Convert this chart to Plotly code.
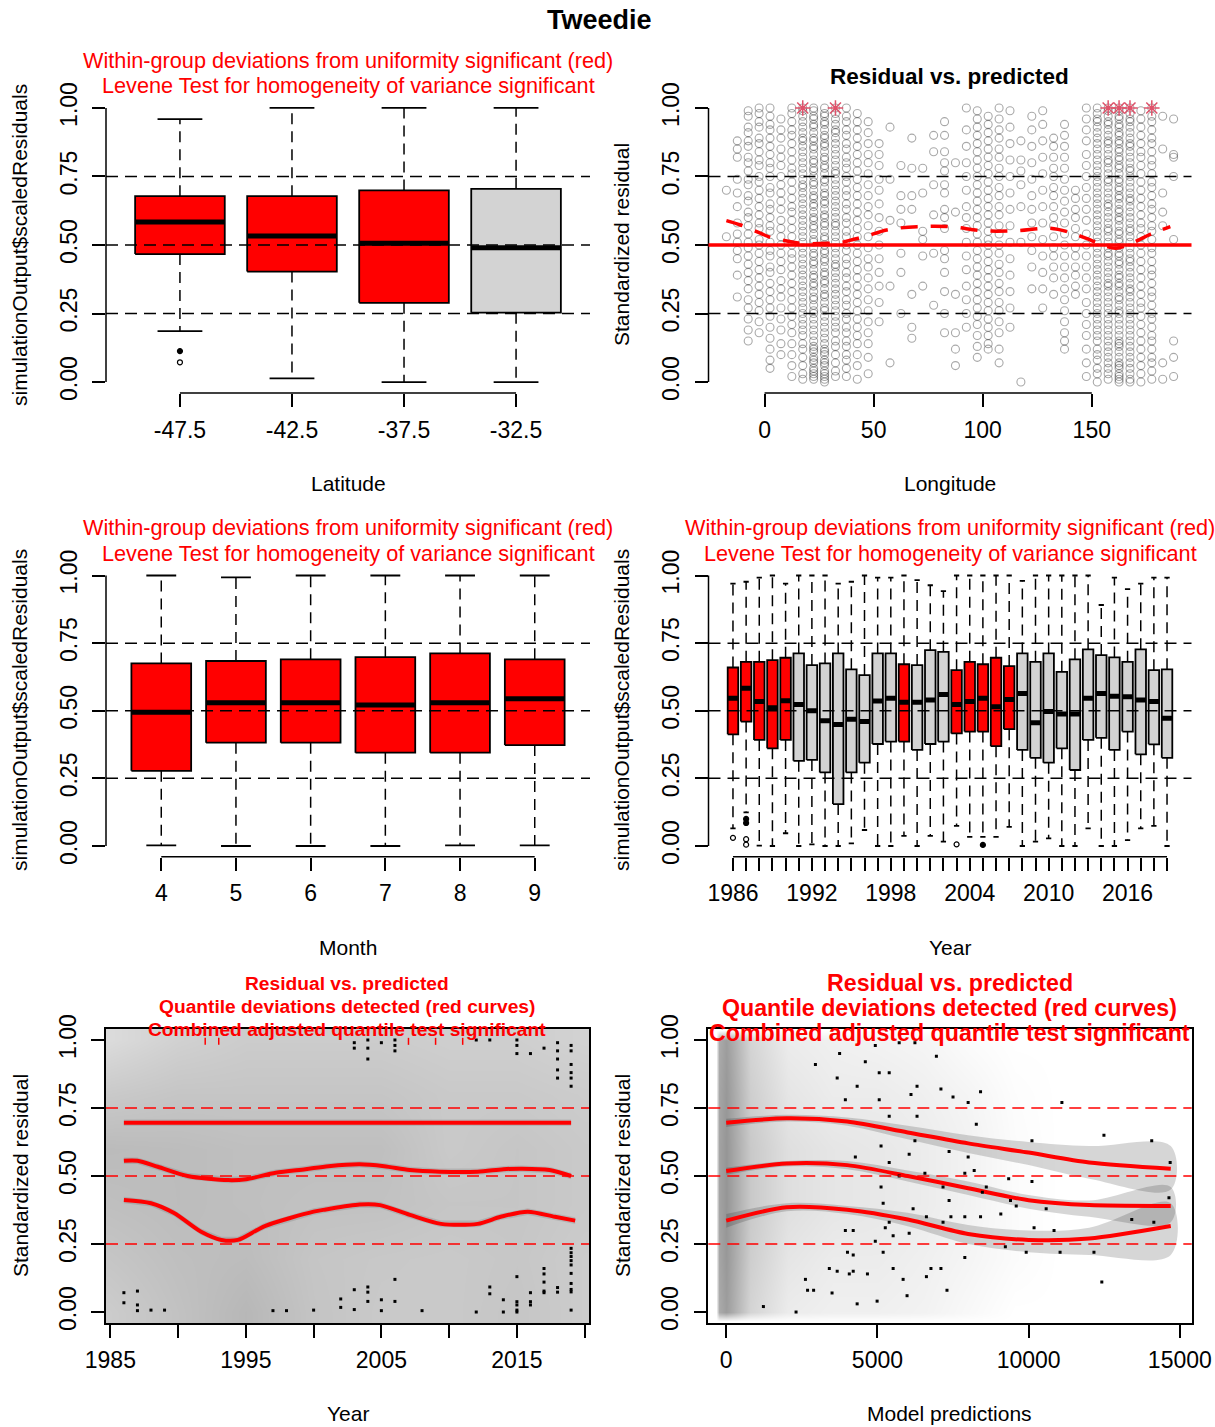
import plotly.graph_objects as go

W, H = 1215, 1427
FONT = "Liberation Sans, Arial, sans-serif"
RED = "#FF0000"
GREY = "#D3D3D3"

# ---------------- data: Latitude boxplot ----------------
LAT_LABELS = ["-47.5", "-42.5", "-37.5", "-32.5"]
LAT_LOW = [0.186, 0.013, 0.0, 0.0]
LAT_Q1 = [0.467, 0.403, 0.289, 0.253]
LAT_MED = [0.584, 0.533, 0.506, 0.490]
LAT_Q3 = [0.678, 0.678, 0.699, 0.705]
LAT_HIGH = [0.959, 1.0, 1.0, 1.0]
LAT_SIG = [True, True, True, False]
LAT_OUT_POS = [1, 1]
LAT_OUT_VAL = [0.113, 0.072]
LAT_OUT_FILLED = [True, False]

# ---------------- data: Month boxplot ----------------
MONTH_LABELS = ["4", "5", "6", "7", "8", "9"]
MON_LOW = [0.002, 0.0, 0.0, 0.0, 0.002, 0.002]
MON_Q1 = [0.278, 0.382, 0.382, 0.345, 0.345, 0.373]
MON_MED = [0.494, 0.530, 0.530, 0.521, 0.530, 0.544]
MON_Q3 = [0.675, 0.684, 0.690, 0.698, 0.712, 0.690]
MON_HIGH = [1.0, 0.993, 1.0, 1.0, 1.0, 1.0]
MON_SIG = [True, True, True, True, True, True]

# ---------------- data: Year boxplot ----------------
YEAR_LABELS = [1986, 1987, 1988, 1989, 1990, 1991, 1992, 1993, 1994, 1995, 1996, 1997,
               1998, 1999, 2000, 2001, 2002, 2003, 2004, 2005, 2006, 2007, 2008, 2009,
               2010, 2011, 2012, 2013, 2014, 2015, 2016, 2017, 2018, 2019]
YEAR_SHOWN = [1986, 1992, 1998, 2004, 2010, 2016]
YR_HIGH = [0.970, 0.977, 0.992, 1.0, 0.970, 1.0, 1.0, 1.0, 0.970, 0.977, 1.0, 0.992,
           0.992, 1.0, 0.983, 0.964, 0.942, 1.0, 1.0, 1.0, 1.0, 1.0, 0.980, 1.0,
           1.0, 1.0, 1.0, 1.0, 0.891, 0.992, 0.950, 0.970, 0.992, 0.992]
YR_Q3 = [0.660, 0.681, 0.681, 0.687, 0.696, 0.712, 0.669, 0.675, 0.712, 0.653, 0.632, 0.712,
         0.712, 0.672, 0.669, 0.724, 0.718, 0.650, 0.681, 0.672, 0.696, 0.665, 0.712, 0.681,
         0.712, 0.644, 0.690, 0.727, 0.706, 0.697, 0.681, 0.727, 0.650, 0.653]
YR_MED = [0.546, 0.583, 0.534, 0.511, 0.537, 0.523, 0.500, 0.463, 0.449, 0.469, 0.460, 0.536,
          0.546, 0.531, 0.531, 0.540, 0.560, 0.523, 0.534, 0.546, 0.515, 0.542, 0.564, 0.456,
          0.497, 0.488, 0.488, 0.546, 0.564, 0.554, 0.552, 0.540, 0.534, 0.472]
YR_Q1 = [0.413, 0.460, 0.392, 0.361, 0.392, 0.315, 0.318, 0.272, 0.155, 0.272, 0.308, 0.377,
         0.386, 0.386, 0.355, 0.377, 0.386, 0.416, 0.423, 0.423, 0.369, 0.432, 0.355, 0.326,
         0.308, 0.361, 0.281, 0.392, 0.400, 0.355, 0.423, 0.339, 0.376, 0.326]
YR_LOW = [0.065, 0.124, 0.001, 0.0, 0.047, 0.0, 0.006, 0.0, 0.0, 0.010, 0.059, 0.0,
          0.0, 0.037, 0.0, 0.037, 0.016, 0.074, 0.034, 0.034, 0.034, 0.071, 0.0, 0.016,
          0.028, 0.0, 0.0, 0.065, 0.0, 0.0, 0.022, 0.065, 0.074, 0.0]
YR_SIG = [True, True, True, True, True, False, False, False, False, False, False, False,
          False, True, False, False, False, True, True, True, True, True, False, False,
          False, False, False, False, False, False, False, False, False, False]
YR_OUT_YEAR = [1986, 1987, 1987, 1987, 1987, 2003, 2005]
YR_OUT_VAL = [0.030, 0.100, 0.085, 0.025, 0.005, 0.006, 0.004]
YR_OUT_FILLED = [False, True, True, False, False, False, True]

# ---------------- data: Longitude scatter ----------------
LON_COLS = [-17.5, -12.5, -7.5, -2.5, 2.5, 7.5, 12.5, 17.5, 22.5, 27.5, 32.5, 37.5, 42.5, 47.5,
            52.5, 57.5, 62.5, 67.5, 72.5, 77.5, 82.5, 87.5, 92.5, 97.5, 102.5, 107.5, 112.5,
            117.5, 122.5, 127.5, 132.5, 137.5, 142.5, 147.5, 152.5, 157.5, 162.5, 167.5,
            172.5, 177.5, 182.5, 187.5]
RESID_PCT = [
    [70, 53],
    [88, 85, 82, 74, 69, 64, 58, 54, 51, 48, 45, 39, 31],
    [99, 97, 93, 91, 88, 86, 82, 80, 77, 74, 72, 68, 66, 62, 60, 57, 54, 51, 49, 46, 43, 40, 37, 34, 30, 27, 23, 19, 15],
    [100, 98, 95, 93, 89, 87, 84, 81, 79, 75, 73, 70, 67, 64, 61, 58, 56, 52, 50, 47, 44, 41, 38, 35, 32, 29, 26, 22, 18],
    [100, 97, 94, 92, 89, 86, 83, 80, 78, 75, 71, 69, 65, 63, 60, 57, 55, 51, 48, 46, 42, 40, 36, 33, 30, 27, 24, 20, 16, 12, 8, 5],
    [96, 92, 89, 85, 82, 79, 75, 72, 69, 66, 63, 59, 56, 53, 50, 47, 44, 41, 37, 34, 31, 27, 23, 19, 14, 10],
    [100, 98, 95, 92, 90, 87, 84, 81, 78, 76, 73, 70, 67, 64, 62, 59, 56, 53, 50, 47, 45, 42, 39, 36, 33, 30, 27, 24, 21, 18, 14, 10, 6, 2],
    [100, 99, 97, 95, 93, 91, 89, 88, 86, 84, 82, 80, 78, 76, 74, 72, 71, 69, 67, 65, 63, 61, 59, 57, 55, 53, 51, 49, 47, 45, 43, 41, 39, 37, 35, 33, 31, 29, 27, 25, 23, 21, 19, 17, 14, 12, 9, 6, 3, 1],
    [100, 99, 97, 96, 94, 93, 91, 89, 88, 86, 85, 83, 81, 80, 78, 77, 75, 73, 72, 70, 68, 67, 65, 64, 62, 60, 59, 57, 56, 54, 52, 51, 49, 47, 46, 44, 43, 41, 39, 38, 36, 35, 33, 31, 30, 28, 26, 25, 23, 21, 19, 17, 15, 13, 11, 9, 7, 5, 3, 1, 12, 8, 4, 2],
    [100, 98, 97, 95, 94, 92, 90, 89, 87, 86, 84, 82, 81, 79, 78, 76, 74, 73, 71, 69, 68, 66, 65, 63, 61, 60, 58, 57, 55, 53, 52, 50, 48, 47, 45, 44, 42, 40, 39, 37, 36, 34, 32, 31, 29, 27, 26, 24, 22, 20, 18, 16, 14, 12, 10, 8, 6, 4, 2, 0, 11, 7, 3, 1],
    [100, 98, 96, 94, 92, 91, 89, 87, 85, 83, 81, 79, 77, 76, 74, 72, 70, 68, 66, 64, 62, 60, 58, 57, 55, 53, 51, 49, 47, 45, 43, 42, 40, 38, 36, 34, 32, 30, 28, 26, 24, 22, 20, 18, 15, 13, 10, 7, 4, 2],
    [100, 97, 95, 92, 90, 87, 85, 82, 80, 78, 75, 73, 70, 68, 65, 63, 60, 58, 55, 53, 50, 48, 45, 43, 40, 38, 35, 33, 30, 28, 25, 23, 20, 18, 15, 13, 10, 8, 5, 2],
    [98, 95, 92, 89, 86, 83, 80, 77, 74, 71, 68, 65, 62, 59, 56, 53, 50, 47, 44, 41, 38, 35, 32, 29, 26, 23, 20, 17, 14, 10, 6, 1],
    [95, 91, 87, 83, 80, 76, 72, 68, 64, 61, 57, 53, 49, 45, 42, 38, 34, 30, 26, 22, 18, 14, 9, 3],
    [87, 83, 79, 74, 70, 65, 60, 55, 50, 45, 40, 35, 29, 22],
    [93, 74, 59, 35, 7],
    [79, 68, 63, 58, 47, 40, 25],
    [89, 78, 68, 63, 32, 20, 16],
    [78, 69, 55, 52, 46, 35],
    [90, 84, 72, 61, 47, 28],
    [95, 90, 84, 80, 77, 72, 69, 63, 60, 56, 48, 45, 40, 33, 25, 18],
    [80, 62, 32, 18, 12, 6],
    [100, 92, 86, 80, 75, 70, 64, 60, 56, 51, 46, 41, 35, 30, 25, 20],
    [99, 96, 93, 90, 87, 84, 81, 78, 75, 72, 69, 66, 63, 60, 57, 54, 51, 48, 45, 42, 39, 36, 33, 30, 27, 24, 21, 17, 13, 9],
    [97, 94, 91, 88, 85, 82, 79, 76, 73, 70, 67, 64, 61, 58, 55, 52, 50, 47, 44, 41, 38, 35, 32, 29, 26, 23, 20, 17, 14, 12],
    [100, 96, 92, 89, 85, 82, 78, 75, 71, 68, 64, 61, 57, 54, 50, 47, 43, 40, 36, 33, 29, 26, 22, 18, 12, 7],
    [99, 93, 87, 81, 75, 69, 63, 57, 51, 45, 39, 33, 27, 20],
    [88, 81, 77, 72, 64, 51, 0],
    [97, 92, 86, 80, 74, 68, 63, 58, 53, 48, 42, 34],
    [99, 94, 88, 82, 76, 70, 64, 58, 52, 46, 40, 34, 27],
    [89, 86, 82, 78, 75, 71, 68, 64, 60, 57, 53, 49, 46, 42, 38, 32],
    [94, 90, 86, 82, 78, 74, 70, 66, 62, 58, 54, 50, 46, 42, 38, 34, 30, 26, 22, 18, 15, 12],
    [70, 67, 63, 60, 56, 53, 49, 46, 42, 39, 35, 32],
    [100, 96, 92, 88, 83, 79, 75, 71, 67, 63, 59, 54, 50, 46, 42, 38, 34, 29, 25, 21, 17, 12, 7, 2],
    [100, 98, 96, 95, 93, 91, 89, 87, 85, 83, 81, 79, 77, 75, 73, 71, 69, 67, 65, 63, 61, 59, 57, 55, 53, 51, 49, 47, 45, 43, 41, 39, 37, 35, 33, 31, 29, 27, 25, 23, 21, 19, 17, 15, 12, 10, 8, 5, 3, 0],
    [100, 99, 97, 95, 94, 92, 90, 88, 87, 85, 83, 81, 80, 78, 76, 74, 73, 71, 69, 67, 65, 64, 62, 60, 58, 56, 55, 53, 51, 49, 47, 46, 44, 42, 40, 38, 36, 35, 33, 31, 29, 27, 25, 23, 21, 19, 17, 15, 13, 11, 9, 7, 5, 3, 1],
    [100, 99, 97, 96, 94, 93, 91, 90, 88, 87, 85, 84, 82, 81, 79, 78, 76, 74, 73, 71, 70, 68, 67, 65, 63, 62, 60, 59, 57, 55, 54, 52, 51, 49, 47, 46, 44, 43, 41, 39, 38, 36, 35, 33, 31, 30, 28, 26, 25, 23, 21, 19, 17, 15, 13, 11, 9, 7, 5, 3, 1, 0, 14, 6, 2],
    [100, 98, 96, 95, 93, 91, 89, 87, 86, 84, 82, 80, 78, 77, 75, 73, 71, 69, 67, 66, 64, 62, 60, 58, 56, 55, 53, 51, 49, 47, 45, 44, 42, 40, 38, 36, 34, 33, 31, 29, 27, 25, 23, 21, 19, 17, 15, 13, 11, 9, 7, 5, 3, 1, 0],
    [99, 96, 93, 90, 87, 84, 82, 79, 76, 73, 70, 67, 64, 61, 58, 56, 53, 50, 47, 44, 41, 38, 35, 32, 29, 27, 24, 21, 18, 15, 12, 9, 6, 3, 0],
    [100, 97, 95, 92, 89, 87, 84, 81, 79, 76, 73, 71, 68, 65, 63, 60, 57, 55, 52, 49, 47, 44, 41, 39, 36, 33, 31, 28, 25, 23, 20, 17, 15, 12, 9, 7, 4, 1],
    [97, 85, 69, 62, 57, 7, 1],
    [96, 83, 82, 75, 52, 15, 9, 2],
]
OUTLIER_LON = [17.5, 32.5, 157.5, 162.5, 167.5, 177.5]
OUTLIER_VAL = [1.0, 1.0, 1.0, 1.0, 1.0, 1.0]
SMOOTH_LON = [-17.5, -11, -2, 3, 12, 17, 29, 35, 41, 47, 56, 70, 85, 100, 115, 131, 141,
              147.5, 155, 161, 169, 177, 186]
SMOOTH_RES = [0.589, 0.573, 0.543, 0.527, 0.512, 0.506, 0.506, 0.509, 0.521, 0.533, 0.555,
              0.567, 0.567, 0.552, 0.552, 0.561, 0.543, 0.524, 0.500, 0.488, 0.509, 0.540, 0.567]

# ---------------- data: Year quantile plot ----------------
BL_DENS_X = [1985, 1990, 1995, 2000, 2005, 2010, 2015, 2020]
BL_DENS_Y = [0.0, 0.2, 0.4, 0.6, 0.8, 1.0]
BL_DENS_Z = [
    [0.40, 0.48, 0.56, 0.46, 0.42, 0.42, 0.45, 0.40],
    [0.45, 0.50, 0.52, 0.45, 0.43, 0.42, 0.44, 0.40],
    [0.50, 0.52, 0.50, 0.48, 0.48, 0.45, 0.45, 0.42],
    [0.53, 0.52, 0.50, 0.50, 0.50, 0.42, 0.45, 0.42],
    [0.42, 0.45, 0.45, 0.45, 0.45, 0.42, 0.42, 0.40],
    [0.28, 0.36, 0.40, 0.40, 0.40, 0.38, 0.38, 0.35],
]
BL_Q75_X = [1986, 2019]
BL_Q75 = [0.696, 0.696]
BL_Q50_X = [1986, 1987, 1988.5, 1990.7, 1993.7, 1995, 1997.2, 1999.4, 2001.1, 2003.4, 2005.2,
            2007.1, 2009.3, 2012.1, 2014, 2015.4, 2017.4, 2019]
BL_Q50 = [0.556, 0.556, 0.534, 0.50, 0.485, 0.488, 0.512, 0.525, 0.536, 0.543, 0.536, 0.522,
          0.516, 0.516, 0.525, 0.527, 0.522, 0.50]
BL_Q25_X = [1986, 1988, 1989.7, 1991.7, 1993.2, 1994.4, 1996.4, 2000, 2000.9, 2003.4, 2004.9,
            2007.1, 2009.4, 2012.1, 2013.8, 2015.8, 2017.8, 2019.3]
BL_Q25 = [0.412, 0.40, 0.364, 0.295, 0.265, 0.265, 0.316, 0.369, 0.377, 0.395, 0.393, 0.357,
          0.324, 0.324, 0.35, 0.369, 0.35, 0.336]
BL_DOT_YEAR = [2003, 2003, 2004, 2004, 2004, 2005, 2006, 2006, 2006, 2012, 2013, 2015, 2015,
               2015, 2016, 2017, 2018, 2018, 2018, 2018, 2018, 2019, 2019, 2019, 2019, 2019,
               2019, 1986, 1986, 1987, 1987, 1987, 1988, 1989, 1997, 1998, 2000, 2002, 2002,
               2003, 2003, 2004, 2004, 2004, 2005, 2005, 2006, 2006, 2008, 2012, 2013, 2013,
               2014, 2014, 2015, 2015, 2015, 2015, 2015, 2016, 2016, 2016, 2017, 2017, 2017,
               2017, 2017, 2018, 2018, 2019, 2019, 2019, 2019, 2019, 2019, 2019, 2019, 2019,
               2019]
BL_DOT_RES = [0.99, 0.97, 1.0, 0.97, 0.93, 0.99, 1.0, 0.98, 0.96, 1.0, 1.0, 1.0, 0.98,
              0.95, 0.95, 0.97, 0.99, 0.96, 0.93, 0.89, 0.86, 0.98, 0.96, 0.91, 0.88, 0.86,
              0.83, 0.071, 0.034, 0.077, 0.026, 0.005, 0.007, 0.007, 0.005, 0.005, 0.007,
              0.048, 0.017, 0.082, 0.009, 0.092, 0.073, 0.039, 0.045, 0.005, 0.12, 0.039,
              0.005, 0.0, 0.092, 0.067, 0.045, 0.0, 0.13, 0.038, 0.026, 0.007, 0.0, 0.071,
              0.038, 0.026, 0.16, 0.14, 0.11, 0.077, 0.071, 0.09, 0.073, 0.234, 0.218,
              0.204, 0.189, 0.173, 0.142, 0.105, 0.083, 0.074, 0.007]
BL_RED_YEAR = [1992, 1993, 2007, 2009, 2011]
BL_RED_RES = [0.995, 0.995, 0.995, 0.995, 0.995]

# ---------------- data: Model predictions quantile plot ----------------
BR_DENS_X = [-330, -250, 0, 250, 800, 2000, 3500, 5000, 6500, 8000, 9500, 11000, 12500, 15000]
BR_DENS_Y = [-0.035, 0.0, 0.2, 0.4, 0.6, 0.8, 1.0, 1.035]
BR_DENS_Z = [
    [0.0, 0.0, 0.0, 0.0, 0.0, 0.0, 0.0, 0.0, 0.0, 0.0, 0.0, 0.0, 0.0, 0.0],
    [0.0, 0.66, 0.76, 0.62, 0.33, 0.15, 0.12, 0.12, 0.10, 0.05, 0.0, 0.0, 0.0, 0.0],
    [0.0, 0.70, 0.80, 0.66, 0.38, 0.20, 0.15, 0.15, 0.12, 0.08, 0.03, 0.0, 0.0, 0.0],
    [0.0, 0.72, 0.82, 0.68, 0.42, 0.25, 0.20, 0.18, 0.15, 0.10, 0.03, 0.0, 0.0, 0.0],
    [0.0, 0.72, 0.82, 0.68, 0.42, 0.25, 0.20, 0.18, 0.15, 0.10, 0.03, 0.0, 0.0, 0.0],
    [0.0, 0.70, 0.80, 0.66, 0.38, 0.20, 0.15, 0.15, 0.12, 0.08, 0.02, 0.0, 0.0, 0.0],
    [0.0, 0.66, 0.76, 0.62, 0.33, 0.15, 0.12, 0.10, 0.08, 0.03, 0.0, 0.0, 0.0, 0.0],
    [0.0, 0.0, 0.0, 0.0, 0.0, 0.0, 0.0, 0.0, 0.0, 0.0, 0.0, 0.0, 0.0, 0.0],
]
BR_X = [0, 2000, 4000, 6000, 8000, 10000, 12000, 14700]
BR_Q75 = [0.696, 0.712, 0.700, 0.660, 0.620, 0.586, 0.550, 0.527]
BR_Q75_LO = [0.68, 0.70, 0.685, 0.635, 0.585, 0.54, 0.49, 0.45]
BR_Q75_HI = [0.71, 0.725, 0.715, 0.685, 0.65, 0.625, 0.61, 0.61]
BR_Q50 = [0.518, 0.546, 0.540, 0.500, 0.455, 0.411, 0.393, 0.390]
BR_Q50_LO = [0.505, 0.535, 0.525, 0.48, 0.43, 0.38, 0.35, 0.33]
BR_Q50_HI = [0.53, 0.555, 0.555, 0.52, 0.48, 0.43, 0.41, 0.46]
BR_Q25 = [0.336, 0.385, 0.376, 0.340, 0.287, 0.265, 0.270, 0.316]
BR_Q25_LO = [0.31, 0.37, 0.36, 0.315, 0.25, 0.22, 0.21, 0.21]
BR_Q25_HI = [0.36, 0.40, 0.39, 0.365, 0.32, 0.30, 0.31, 0.40]
BR_DOT_PRED = [1230, 2310, 2620, 2690, 2890, 2950, 3410, 3500, 3670, 3670, 3750, 3940, 3940,
               4010, 4070, 4200, 4200, 4200, 4270, 4330, 4330, 4600, 4670, 4930, 4930, 4990,
               5060, 5060, 5120, 5120, 5190, 5190, 5260, 5390, 5390, 5390, 5390, 5520, 5520,
               5720, 5720, 5850, 5980, 6050, 6050, 6110, 6180, 6240, 6240, 6310, 6310, 6570,
               6620, 6620, 6770, 6950, 7100, 7100, 7170, 7170, 7300, 7370, 7370, 7430, 7500,
               7890, 7890, 7890, 8000, 8000, 8200, 8270, 8410, 8410, 8470, 8600, 9080, 9230,
               9340, 9400, 9590, 9920, 10110, 10110, 10180, 10580, 10840, 11040, 11100, 12160,
               12420, 12490, 13410, 14070, 14140, 14680, 14640]
BR_DOT_RES = [0.02, 0.0, 0.12, 0.08, 0.08, 0.91, 0.16, 0.07, 0.15, 0.86, 0.95, 0.78, 0.30,
              0.22, 0.14, 0.30, 0.21, 0.15, 0.57, 0.83, 0.03, 0.92, 0.14, 0.98, 0.26, 0.04,
              0.88, 0.78, 0.61, 0.46, 0.40, 0.22, 0.31, 0.88, 0.72, 0.55, 0.33, 0.28, 0.16,
              0.99, 0.50, 0.12, 0.06, 0.58, 0.29, 0.80, 0.38, 0.99, 0.63, 0.83, 0.72, 0.51,
              0.13, 0.35, 0.16, 0.94, 0.82, 0.16, 0.46, 0.33, 0.08, 0.59, 0.41, 0.35, 0.79,
              0.51, 0.35, 0.20, 0.77, 0.57, 0.52, 0.69, 0.81, 0.35, 0.44, 0.46, 0.36, 0.24,
              0.49, 0.41, 0.39, 0.22, 0.63, 0.48, 0.31, 0.38, 0.30, 0.22, 0.77, 0.22,
              0.11, 0.65, 0.34, 0.63, 0.33, 0.55, 0.42]

Y_TICKS = [0, 0.25, 0.5, 0.75, 1.0]
Y_TICKTEXT = ["0.00", "0.25", "0.50", "0.75", "1.00"]

# ---------------- figure helpers ----------------
fig = go.Figure()
layout_axes = {}
shapes = []
annotations = []


def px_x(p):
    return p / W


def px_y(p):
    return 1 - p / H


def setup_axes(n, xpx, ypx, xrange, yrange, xtickvals, xticktext, frame=False):
    xa = "xaxis" if n == 1 else f"xaxis{n}"
    ya = "yaxis" if n == 1 else f"yaxis{n}"
    xid = "x" if n == 1 else f"x{n}"
    yid = "y" if n == 1 else f"y{n}"
    common = dict(showgrid=False, zeroline=False, ticks="outside", ticklen=13, tickwidth=1.5,
                  tickcolor="black", tickfont=dict(family=FONT, size=23, color="black"),
                  fixedrange=True, showline=frame, mirror=frame, linecolor="black", linewidth=1.5,
                  automargin=False)
    layout_axes[xa] = dict(common, domain=[px_x(xpx[0]), px_x(xpx[1])], range=xrange,
                           anchor=yid, tickmode="array", tickvals=xtickvals, ticktext=xticktext,
                           ticklabelstandoff=3)
    layout_axes[ya] = dict(common, domain=[px_y(ypx[1]), px_y(ypx[0])], range=yrange,
                           anchor=xid, tickmode="array", tickvals=Y_TICKS, ticktext=Y_TICKTEXT,
                           tickangle=-90, ticklabelstandoff=6)
    return xid, yid


def r_axis_lines(xid, yid, x0, x1):
    shapes.append(dict(type="line", xref=xid, x0=x0, x1=x1, yref=f"{yid} domain", y0=0, y1=0,
                       line=dict(color="black", width=1.5)))
    shapes.append(dict(type="line", xref=f"{xid} domain", x0=0, x1=0, yref=yid, y0=0, y1=1,
                       line=dict(color="black", width=1.5)))


def hlines(xid, yid, vals, color, dash, width=1.5):
    for v in vals:
        shapes.append(dict(type="line", xref=f"{xid} domain", x0=0, x1=1, yref=yid, y0=v, y1=v,
                           line=dict(color=color, width=width, dash=dash)))


def boxes(xid, yid, pos, low, q1, med, q3, high, sig, hw=0.4):
    wx, wy, cx, cy = [], [], [], []
    for p, lo, a, b, hi in zip(pos, low, q1, q3, high):
        wx += [p, p, None, p, p, None]
        wy += [b, hi, None, a, lo, None]
        cx += [p - hw / 2, p + hw / 2, None, p - hw / 2, p + hw / 2, None]
        cy += [hi, hi, None, lo, lo, None]
    fig.add_trace(go.Scatter(x=wx, y=wy, mode="lines", xaxis=xid, yaxis=yid, hoverinfo="skip",
                             line=dict(color="black", width=1.5, dash="11px,7px")))
    fig.add_trace(go.Scatter(x=cx, y=cy, mode="lines", xaxis=xid, yaxis=yid, hoverinfo="skip",
                             line=dict(color="black", width=1.8)))
    for flag, col in ((True, RED), (False, GREY)):
        bx, by = [], []
        for p, a, b, s in zip(pos, q1, q3, sig):
            if s == flag:
                bx += [p - hw, p + hw, p + hw, p - hw, p - hw, None]
                by += [a, a, b, b, a, None]
        if bx:
            fig.add_trace(go.Scatter(x=bx, y=by, mode="lines", fill="toself", fillcolor=col,
                                     xaxis=xid, yaxis=yid, hoverinfo="skip",
                                     line=dict(color="black", width=1.8)))
    mx, my = [], []
    for p, m in zip(pos, med):
        mx += [p - hw, p + hw, None]
        my += [m, m, None]
    fig.add_trace(go.Scatter(x=mx, y=my, mode="lines", xaxis=xid, yaxis=yid, hoverinfo="skip",
                             line=dict(color="black", width=5)))


def outliers(xid, yid, xs, ys, filled_flags):
    for filled in (False, True):
        ox = [x for x, f in zip(xs, filled_flags) if f == filled]
        oy = [y for y, f in zip(ys, filled_flags) if f == filled]
        if ox:
            fig.add_trace(go.Scatter(x=ox, y=oy, mode="markers", xaxis=xid, yaxis=yid,
                                     hoverinfo="skip",
                                     marker=dict(symbol="circle" if filled else "circle-open",
                                                 size=5, color="black",
                                                 line=dict(width=1.2, color="black"))))


def ann(text, x, y, size, color="black", bold=False, angle=0):
    if bold:
        text = f"<b>{text}</b>"
    annotations.append(dict(text=text, x=px_x(x), y=px_y(y), xref="paper", yref="paper",
                            xanchor="center", yanchor="middle", showarrow=False, textangle=angle,
                            font=dict(family=FONT, size=size, color=color)))


TOP = (97, 393)
MID = (564.7, 856.8)
BOT = (1029.1, 1322.9)
LEFT = (106, 590)
RIGHT = (708.5, 1191.5)

# ---------------- panel 1: Latitude ----------------
lat_pos = list(range(1, len(LAT_LABELS) + 1))
x1, y1 = setup_axes(1, LEFT, TOP, [0.34, 4.66], [-0.04, 1.04], lat_pos, LAT_LABELS)
boxes(x1, y1, lat_pos, LAT_LOW, LAT_Q1, LAT_MED, LAT_Q3, LAT_HIGH, LAT_SIG)
outliers(x1, y1, [lat_pos[i - 1] for i in LAT_OUT_POS], LAT_OUT_VAL, LAT_OUT_FILLED)
r_axis_lines(x1, y1, 1, len(LAT_LABELS))
hlines(x1, y1, [0.25, 0.5, 0.75], "black", "12px,7px")

# ---------------- panel 2: Longitude scatter ----------------
x2, y2 = setup_axes(2, RIGHT, TOP, [-25.7, 195.7], [-0.04, 1.04], [0, 50, 100, 150],
                    ["0", "50", "100", "150"])
sx, sy = [], []
for lon, vals in zip(LON_COLS, RESID_PCT):
    for v in vals:
        sx.append(lon)
        sy.append(v / 100)
fig.add_trace(go.Scatter(x=sx, y=sy, mode="markers", xaxis=x2, yaxis=y2, hoverinfo="skip",
                         marker=dict(symbol="circle-open", size=8, color="rgba(0,0,0,0.34)",
                                     line=dict(width=1.1, color="rgba(0,0,0,0.34)"))))
fig.add_trace(go.Scatter(x=SMOOTH_LON, y=SMOOTH_RES, mode="lines", xaxis=x2, yaxis=y2,
                         hoverinfo="skip", line=dict(color=RED, width=3.5, dash="17px,13px",
                                                     shape="spline")))
fig.add_trace(go.Scatter(x=OUTLIER_LON, y=OUTLIER_VAL, mode="markers", xaxis=x2, yaxis=y2,
                         hoverinfo="skip",
                         marker=dict(symbol="asterisk-open", size=13, color="#DF536B",
                                     line=dict(width=1.5, color="#DF536B"))))
r_axis_lines(x2, y2, 0, 150)
hlines(x2, y2, [0.25, 0.75], "black", "12px,7px")
hlines(x2, y2, [0.5], RED, "solid", width=3.5)

# ---------------- panel 3: Month ----------------
mon_pos = list(range(1, len(MONTH_LABELS) + 1))
x3, y3 = setup_axes(3, LEFT, MID, [0.26, 6.74], [-0.04, 1.04], mon_pos, MONTH_LABELS)
boxes(x3, y3, mon_pos, MON_LOW, MON_Q1, MON_MED, MON_Q3, MON_HIGH, MON_SIG)
r_axis_lines(x3, y3, 1, len(MONTH_LABELS))
hlines(x3, y3, [0.25, 0.5, 0.75], "black", "12px,7px")

# ---------------- panel 4: Year boxplots ----------------
yr_pos = list(range(1, len(YEAR_LABELS) + 1))
yr_text = [str(y) if y in YEAR_SHOWN else "" for y in YEAR_LABELS]
x4, y4 = setup_axes(4, RIGHT, MID, [-0.86, 35.86], [-0.04, 1.04], yr_pos, yr_text)
boxes(x4, y4, yr_pos, YR_LOW, YR_Q1, YR_MED, YR_Q3, YR_HIGH, YR_SIG)
outliers(x4, y4, [YEAR_LABELS.index(yy) + 1 for yy in YR_OUT_YEAR], YR_OUT_VAL, YR_OUT_FILLED)
r_axis_lines(x4, y4, 1, len(YEAR_LABELS))
hlines(x4, y4, [0.25, 0.5, 0.75], "black", "12px,7px")

# ---------------- panel 5: Year quantile plot ----------------
x5, y5 = setup_axes(5, (106, 589), BOT, [1984.68, 2020.32], [-0.04, 1.04],
                    [1985, 1990, 1995, 2000, 2005, 2010, 2015, 2020],
                    ["1985", "", "1995", "", "2005", "", "2015", ""], frame=True)
fig.add_trace(go.Heatmap(x=BL_DENS_X, y=BL_DENS_Y, z=BL_DENS_Z, xaxis=x5, yaxis=y5,
                         zsmooth="best", zmin=0, zmax=1, showscale=False, hoverinfo="skip",
                         colorscale=[[0, "#ffffff"], [1, "#7f7f7f"]]))
for cx_, cy_ in ((BL_Q75_X, BL_Q75), (BL_Q50_X, BL_Q50), (BL_Q25_X, BL_Q25)):
    bx = list(cx_) + list(cx_)[::-1]
    by = [v + 0.012 for v in cy_] + [v - 0.012 for v in cy_][::-1]
    fig.add_trace(go.Scatter(x=bx, y=by, mode="lines", fill="toself", xaxis=x5, yaxis=y5,
                             fillcolor="rgba(0,0,0,0.10)", line=dict(width=0), hoverinfo="skip"))
    fig.add_trace(go.Scatter(x=cx_, y=cy_, mode="lines", xaxis=x5, yaxis=y5, hoverinfo="skip",
                             line=dict(color=RED, width=4, shape="spline", smoothing=0.8)))
fig.add_trace(go.Scatter(x=BL_DOT_YEAR, y=BL_DOT_RES, mode="markers", xaxis=x5, yaxis=y5,
                         hoverinfo="skip", marker=dict(symbol="square", size=3, color="black")))
fig.add_trace(go.Scatter(x=BL_RED_YEAR, y=BL_RED_RES, mode="markers", xaxis=x5, yaxis=y5,
                         hoverinfo="skip", marker=dict(symbol="line-ns-open", size=5, color=RED,
                                                       line=dict(width=1.5, color=RED))))
hlines(x5, y5, [0.25, 0.5, 0.75], RED, "12px,7px")

# ---------------- panel 6: Model predictions quantile plot ----------------
x6, y6 = setup_axes(6, (708.3, 1191.7), BOT, [-592, 15392], [-0.04, 1.04],
                    [0, 5000, 10000, 15000], ["0", "5000", "10000", "15000"], frame=True)
fig.add_trace(go.Heatmap(x=BR_DENS_X, y=BR_DENS_Y, z=BR_DENS_Z, xaxis=x6, yaxis=y6,
                         zsmooth="best", zmin=0, zmax=1, showscale=False, hoverinfo="skip",
                         colorscale=[[0, "#ffffff"], [1, "#7f7f7f"]]))
for q, lo, hi in ((BR_Q75, BR_Q75_LO, BR_Q75_HI), (BR_Q50, BR_Q50_LO, BR_Q50_HI),
                  (BR_Q25, BR_Q25_LO, BR_Q25_HI)):
    fig.add_trace(go.Scatter(x=BR_X + BR_X[::-1], y=hi + lo[::-1], mode="lines", fill="toself",
                             xaxis=x6, yaxis=y6, fillcolor="rgba(0,0,0,0.16)",
                             line=dict(width=0, shape="spline"), hoverinfo="skip"))
for q in (BR_Q75, BR_Q50, BR_Q25):
    fig.add_trace(go.Scatter(x=BR_X, y=q, mode="lines", xaxis=x6, yaxis=y6, hoverinfo="skip",
                             line=dict(color=RED, width=4, shape="spline", smoothing=0.8)))
fig.add_trace(go.Scatter(x=BR_DOT_PRED, y=BR_DOT_RES, mode="markers", xaxis=x6, yaxis=y6,
                         hoverinfo="skip", marker=dict(symbol="square", size=3, color="black")))
hlines(x6, y6, [0.25, 0.5, 0.75], RED, "12px,7px")

# ---------------- texts ----------------
ann("Tweedie", 599, 20, 27, bold=True)
ann("Within-group deviations from uniformity significant (red)", 348, 60, 21.7, RED)
ann("Levene Test for homogeneity of variance significant", 348, 86, 21.7, RED)
ann("Within-group deviations from uniformity significant (red)", 348, 527, 21.7, RED)
ann("Levene Test for homogeneity of variance significant", 348, 553, 21.7, RED)
ann("Within-group deviations from uniformity significant (red)", 950, 527, 21.7, RED)
ann("Levene Test for homogeneity of variance significant", 950, 553, 21.7, RED)
ann("Residual vs. predicted", 949.5, 76, 22.5, bold=True)
ann("Residual vs. predicted", 347, 983, 19.2, RED, bold=True)
ann("Quantile deviations detected (red curves)", 347, 1006, 19.2, RED, bold=True)
ann("Combined adjusted quantile test significant", 347, 1029.5, 19.2, RED, bold=True)
ann("Residual vs. predicted", 949.5, 983, 23.2, RED, bold=True)
ann("Quantile deviations detected (red curves)", 949.5, 1008, 23.2, RED, bold=True)
ann("Combined adjusted quantile test significant", 949.5, 1033, 23.2, RED, bold=True)

ann("Latitude", 348, 483, 21)
ann("Longitude", 949.5, 483, 21)
ann("Month", 348, 947, 21)
ann("Year", 949.5, 947, 21)
ann("Year", 348, 1413, 21)
ann("Model predictions", 949.5, 1413, 21)
ann("simulationOutput$scaledResiduals", 20, 245, 21, angle=-90)
ann("Standardized residual", 622, 245, 21, angle=-90)
ann("simulationOutput$scaledResiduals", 20, 710, 21, angle=-90)
ann("simulationOutput$scaledResiduals", 622, 710, 21, angle=-90)
ann("Standardized residual", 20, 1176, 21, angle=-90)
ann("Standardized residual", 622, 1176, 21, angle=-90)

fig.update_layout(width=W, height=H, margin=dict(l=0, r=0, t=0, b=0, pad=0, autoexpand=False),
                  showlegend=False, paper_bgcolor="white", plot_bgcolor="white", shapes=shapes,
                  annotations=annotations, font=dict(family=FONT, color="black"), **layout_axes)
fig.write_html("out.html", config={"displayModeBar": False})
